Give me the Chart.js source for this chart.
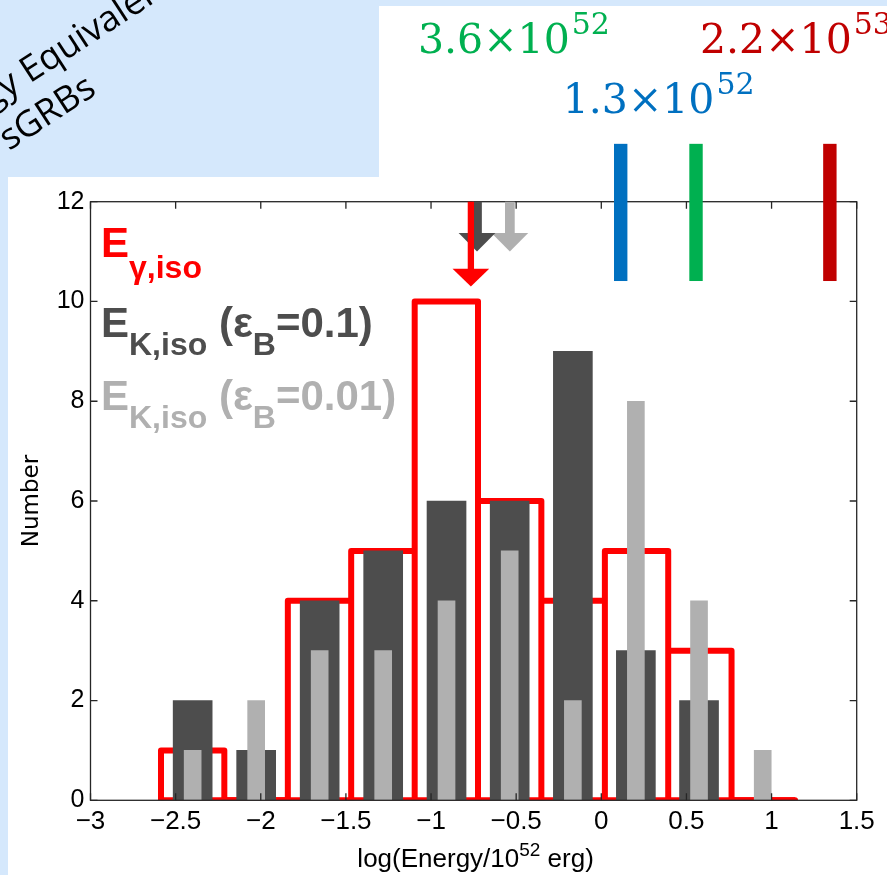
<!DOCTYPE html>
<html>
<head>
<meta charset="utf-8">
<script src="https://cdn.jsdelivr.net/npm/chart.js@4.4.0/dist/chart.umd.min.js"></script>
<style>
  html, body { margin: 0; padding: 0; background: #fff; overflow: hidden; }
  #wrap { position: absolute; left: 0; top: 0; width: 887px; height: 875px; }
</style>
</head>
<body>
<div id="wrap"><canvas id="c" width="887" height="875"></canvas></div>
<script>
// Histogram bins in log10(E / 1e52 erg), shared by all three distributions
const binEdges   = [-2.586, -2.214, -1.841, -1.469, -1.096, -0.724, -0.352, 0.021, 0.393, 0.765, 1.138];
const binCenters = [-2.400, -2.027, -1.654, -1.281, -0.909, -0.538, -0.167, 0.203, 0.574, 0.948];

// Counts per bin
const gammaCounts  = [1, 0, 4, 5, 10, 6, 4, 5, 3, 0];   // E_gamma,iso
const kinCounts01  = [2, 1, 4, 5, 6, 6, 9, 3, 2, 0];    // E_K,iso (eps_B = 0.1)
const kinCounts001 = [1, 2, 3, 3, 4, 5, 2, 8, 4, 1];    // E_K,iso (eps_B = 0.01)

// Median markers (down arrows): position and arrow-tip height
const medianX   = [-0.766, -0.730, -0.537];   // gamma, eps 0.1, eps 0.01
const medianTip = [10.3, 11.0, 11.0];

// Reference energies, in units of 1e52 erg
const refEnergies = [1.3, 3.6, 22];
const refMantissa = ['1.3\u00d710', '3.6\u00d710', '2.2\u00d710'];
const refExponent = ['52', '52', '53'];

// Axis ticks
const xTicks = [-3, -2.5, -2, -1.5, -1, -0.5, 0, 0.5, 1, 1.5];
const yTicks = [0, 2, 4, 6, 8, 10, 12];

const RED = '#ff0000', DARK = '#4d4d4d', LIGHT = '#b0b0b0';
const REF_COLORS = ['#0070c0', '#00b050', '#c00000'];
const AXIS_FAMILY = 'Liberation Sans';

// Outline of the step histogram: each bin traced as left, top and right side
const gammaOutline = [];
gammaCounts.forEach((c, i) => {
  gammaOutline.push({x: binEdges[i], y: 0}, {x: binEdges[i], y: c},
                    {x: binEdges[i + 1], y: c}, {x: binEdges[i + 1], y: 0});
});
const gammaBase = [{x: binEdges[0], y: 0}, {x: binEdges[binEdges.length - 1], y: 0}];

const toBars = counts => counts.map((c, i) => ({x: binCenters[i], y: c}));
const minus = v => String(v).replace('-', '\u2212');

Chart.defaults.font.family = AXIS_FAMILY;
Chart.defaults.font.size = 26;
Chart.defaults.color = '#000';

// Slide background, frame and title fragments
const backdrop = {
  id: 'backdrop',
  beforeDraw(chart) {
    const ctx = chart.ctx;
    ctx.save();
    ctx.fillStyle = '#d5e8fc';
    ctx.fillRect(0, 0, 887, 875);
    ctx.fillStyle = '#ffffff';
    ctx.beginPath();
    ctx.moveTo(8, 177); ctx.lineTo(379, 177); ctx.lineTo(379, 6);
    ctx.lineTo(887, 6); ctx.lineTo(887, 875); ctx.lineTo(8, 875);
    ctx.closePath(); ctx.fill();

    ctx.translate(9, 151);
    ctx.rotate(-33 * Math.PI / 180);
    ctx.fillStyle = '#000';
    ctx.font = '36px "Open Sans"';
    ctx.textBaseline = 'alphabetic';
    ctx.textAlign = 'left';
    const lead = ctx.measureText('Energy ').width;
    ctx.fillText('Energy Equivalent', 54 - lead, -45);
    ctx.fillText('sGRBs', 0, 0);
    ctx.restore();
  }
};

// Closed box with inward tick marks on all four sides
const frame = {
  id: 'frame',
  afterDatasetsDraw(chart) {
    const {ctx, chartArea: a, scales: {x, y}} = chart;
    ctx.save();
    ctx.strokeStyle = '#262626';
    ctx.lineWidth = 1.3;
    ctx.strokeRect(a.left, a.top, a.right - a.left, a.bottom - a.top);
    ctx.beginPath();
    x.ticks.forEach(t => {
      const p = x.getPixelForValue(t.value);
      ctx.moveTo(p, a.bottom); ctx.lineTo(p, a.bottom - 7);
      ctx.moveTo(p, a.top); ctx.lineTo(p, a.top + 7);
    });
    y.ticks.forEach(t => {
      const p = y.getPixelForValue(t.value);
      ctx.moveTo(a.left, p); ctx.lineTo(a.left + 7, p);
      ctx.moveTo(a.right, p); ctx.lineTo(a.right - 7, p);
    });
    ctx.stroke();
    ctx.restore();
  }
};

function runsWidth(ctx, runs) {
  let w = 0;
  runs.forEach(r => { ctx.font = r.font; w += ctx.measureText(r.t).width + (r.gap || 0); });
  return w;
}

function drawRuns(ctx, x, y, runs, color) {
  ctx.fillStyle = color;
  ctx.textBaseline = 'alphabetic';
  ctx.textAlign = 'left';
  runs.forEach(r => {
    ctx.font = r.font;
    ctx.fillText(r.t, x, y + (r.dy || 0));
    x += ctx.measureText(r.t).width + (r.gap || 0);
  });
}

function downArrow(ctx, px, yTop, yTip, shaftW, headW, headH, color) {
  ctx.fillStyle = color;
  ctx.fillRect(px - shaftW / 2, yTop, shaftW, yTip - headH - yTop + 0.5);
  ctx.beginPath();
  ctx.moveTo(px - headW / 2, yTip - headH);
  ctx.lineTo(px + headW / 2, yTip - headH);
  ctx.lineTo(px, yTip);
  ctx.closePath();
  ctx.fill();
}

// Median arrows, reference-energy marks, x-axis title and the in-plot key
const overlay = {
  id: 'overlay',
  afterDraw(chart) {
    const {ctx, chartArea: a, scales: {x, y}} = chart;
    ctx.save();
    const yTop = y.getPixelForValue(12);
    const arrowColors = [RED, DARK, LIGHT];
    const shafts = [6.3, 9.7, 9.7];
    const heads = [17.7, 18.7, 18.7];
    [2, 1, 0].forEach(i => {
      downArrow(ctx, x.getPixelForValue(medianX[i]), yTop, y.getPixelForValue(medianTip[i]),
                shafts[i], 36.7, heads[i], arrowColors[i]);
    });

    refEnergies.forEach((e, i) => {
      const px = x.getPixelForValue(Math.log10(e));
      const y0 = y.getPixelForValue(13.16), y1 = y.getPixelForValue(10.41);
      ctx.fillStyle = REF_COLORS[i];
      ctx.fillRect(px - 6.7, y0, 13.4, y1 - y0);
    });

    const refPos = [[562.7, 113.3], [418, 53.3], [700, 53.3]];
    refEnergies.forEach((e, i) => {
      drawRuns(ctx, refPos[i][0], refPos[i][1], [
        {t: refMantissa[i], font: '41px "DejaVu Serif"', gap: 2},
        {t: refExponent[i], font: '30px "DejaVu Serif"', dy: -19}
      ], REF_COLORS[i]);
    });

    // x-axis title with a raised exponent
    const fam = '"' + AXIS_FAMILY + '"';
    const titleRuns = [
      {t: 'log(Energy/10', font: '26px ' + fam},
      {t: '52', font: '19px ' + fam, dy: -11},
      {t: ' erg)', font: '26px ' + fam}
    ];
    const tw = runsWidth(ctx, titleRuns);
    drawRuns(ctx, (a.left + a.right) / 2 + 2 - tw / 2, 866.7, titleRuns, '#000');

    const big = 'bold 42px ' + fam, sub = 'bold 32px ' + fam;
    drawRuns(ctx, 101, 257.3, [
      {t: 'E', font: big}, {t: '\u03b3,iso', font: sub, dy: 21}
    ], RED);
    drawRuns(ctx, 101, 336.7, [
      {t: 'E', font: big}, {t: 'K,iso', font: sub, dy: 18.3},
      {t: ' (\u03b5', font: big}, {t: 'B', font: sub, dy: 18.3}, {t: '=0.1)', font: big}
    ], DARK);
    drawRuns(ctx, 101, 410, [
      {t: 'E', font: big}, {t: 'K,iso', font: sub, dy: 18.3},
      {t: ' (\u03b5', font: big}, {t: 'B', font: sub, dy: 18.3}, {t: '=0.01)', font: big}
    ], LIGHT);
    ctx.restore();
  }
};

new Chart(document.getElementById('c'), {
  type: 'bar',
  data: {
    datasets: [
      {
        type: 'line', label: 'E\u03b3,iso', data: gammaOutline,
        borderColor: RED, borderWidth: 6, pointRadius: 0, fill: false, tension: 0,
        borderJoinStyle: 'round', borderCapStyle: 'round',
        clip: {left: 10, top: 10, right: 10, bottom: 0}, order: 4
      },
      {
        type: 'line', label: 'base', data: gammaBase,
        borderColor: RED, borderWidth: 6, pointRadius: 0, fill: false,
        clip: {left: 10, top: 10, right: 10, bottom: 0}, order: 5
      },
      {
        label: 'EK,iso (\u03b5B=0.1)', data: toBars(kinCounts01),
        backgroundColor: DARK, barThickness: 39, grouped: false, order: 2
      },
      {
        label: 'EK,iso (\u03b5B=0.01)', data: toBars(kinCounts001),
        backgroundColor: LIGHT, barThickness: 17, grouped: false, order: 1
      }
    ]
  },
  options: {
    responsive: false,
    animation: false,
    devicePixelRatio: 1,
    layout: {padding: {left: 0, top: 201.7, right: 30.3, bottom: 0}},
    plugins: {legend: {display: false}, tooltip: {enabled: false}},
    scales: {
      x: {
        type: 'linear', min: -3, max: 1.5, offset: false,
        grid: {display: false, drawTicks: false}, border: {display: false},
        afterBuildTicks: s => { s.ticks = xTicks.map(v => ({value: v})); },
        afterFit: s => { s.height = 74.7; },
        ticks: {
          autoSkip: false, maxRotation: 0, minRotation: 0, padding: 6, color: '#000',
          font: {family: AXIS_FAMILY, size: 26}, callback: v => minus(v)
        },
        title: {display: false}
      },
      y: {
        type: 'linear', min: 0, max: 12,
        grid: {display: false, drawTicks: false}, border: {display: false},
        afterBuildTicks: s => { s.ticks = yTicks.map(v => ({value: v})); },
        afterFit: s => { s.width = 90.5; },
        ticks: {padding: 6, color: '#000', font: {family: AXIS_FAMILY, size: 25}},
        title: {
          display: true, text: 'Number', color: '#000',
          font: {family: 'DejaVu Sans', size: 23}, padding: {top: 18, bottom: 0}
        }
      }
    }
  },
  plugins: [backdrop, frame, overlay]
});
</script>
</body>
</html>
